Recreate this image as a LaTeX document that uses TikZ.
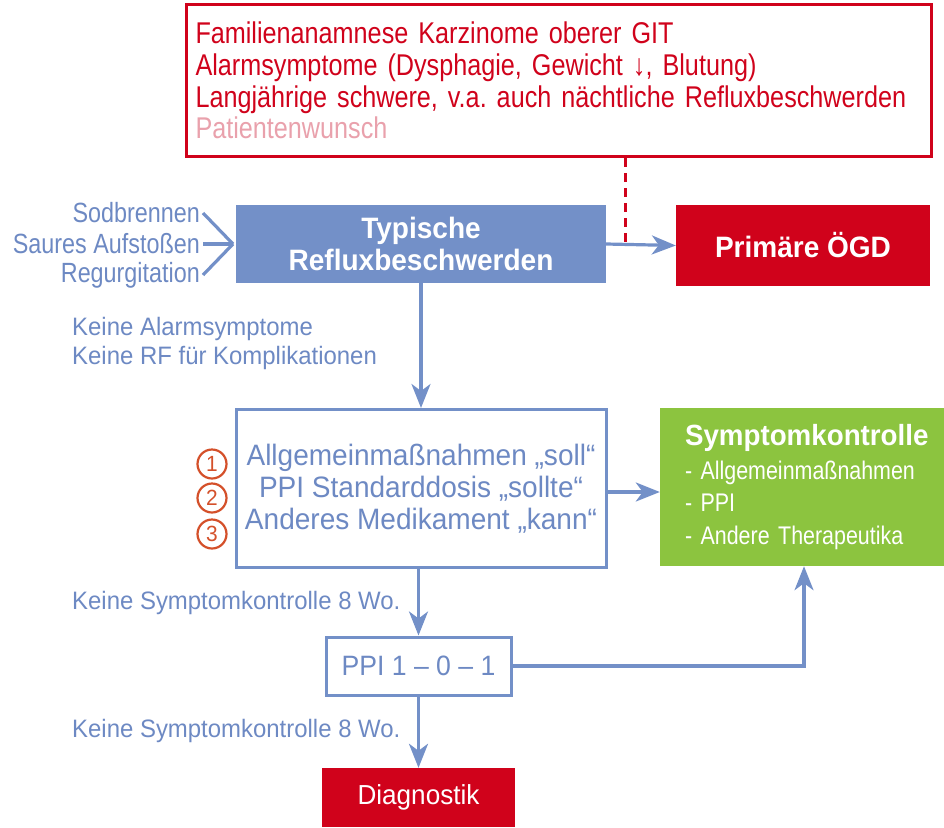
\documentclass[tikz,border=0pt]{standalone}
\usepackage{fontspec}
\setmainfont{Liberation Sans}[FakeStretch=0.95]
\newfontfamily\narrowfont{Liberation Sans}[FakeStretch=0.84]
\usetikzlibrary{arrows.meta}
\frenchspacing
\definecolor{gerdblue}{HTML}{7390C8}
\definecolor{gerdtext}{HTML}{6D89C3}
\definecolor{gerdred}{HTML}{D0021B}
\definecolor{gerdpink}{HTML}{E9A1AC}
\definecolor{gerdgreen}{HTML}{8CC43F}
\definecolor{gerdorange}{HTML}{D4502A}
\tikzset{
  flow/.style={draw=gerdblue, line width=3.2pt},
  arr/.style={flow, -{Stealth[length=24pt,width=19pt,inset=7pt]}},
  bluebox/.style={fill=gerdblue, text=white, font=\fontsize{29.5}{32}\selectfont\bfseries, align=center},
  redbox/.style={fill=gerdred, text=white, font=\fontsize{27.5}{32}\selectfont},
  framebox/.style={draw=gerdblue, line width=3pt, fill=white, text=gerdtext, align=center, font=\fontsize{29.5}{32}\selectfont},
  sidelabel/.style={text=gerdtext, font=\narrowfont\fontsize{27.8}{31}\selectfont, inner sep=0pt},
  edgelabel/.style={text=gerdtext, font=\fontsize{25.2}{29}\selectfont, inner sep=0pt, anchor=west, align=left},
  numcirc/.style={circle, draw=gerdorange, line width=2.2pt, text=gerdorange, inner sep=0pt, minimum size=29pt, font=\fontsize{22}{22}\selectfont}
}
\begin{document}
\begin{tikzpicture}[x=1pt,y=-1pt]
\useasboundingbox (0,0) rectangle (944,827);

% indications for primary endoscopy
\node[draw=gerdred, line width=3pt, anchor=north west, minimum width=745pt, minimum height=152pt,
      text width=727pt, align=left, inner sep=0pt, text=gerdred,
      font=\narrowfont\fontsize{30}{31.8}\selectfont] (risk) at (185,3)
  {Familienanamnese Karzinome oberer GIT\\
   Alarmsymptome (Dysphagie, Gewicht \textdownarrow, Blutung)\\
   Langjährige schwere, v.a. auch nächtliche Refluxbeschwerden\\
   \textcolor{gerdpink}{Patientenwunsch}};

% main boxes
\node[bluebox, minimum width=370pt, minimum height=78pt] (typ) at (421,244) {Typische\\Refluxbeschwerden};
\node[redbox, font=\fontsize{29.5}{32}\selectfont\bfseries, minimum width=254pt, minimum height=81pt] (ogd) at (803,245.5) {Primäre ÖGD};
\node[framebox, minimum width=370pt, minimum height=158pt] (mid) at (421,488.5)
  {Allgemeinmaßnahmen „soll“\\PPI Standarddosis „sollte“\\Anderes Medikament „kann“};
\node[fill=gerdgreen, text=white, minimum width=284pt, minimum height=158pt, text width=234pt, align=left,
      font=\narrowfont\fontsize{25.5}{32.5}\selectfont] (ctrl) at (802,487)
  {{\rmfamily\fontsize{29.2}{33}\selectfont\bfseries Symptomkontrolle}\\[1pt]
   - Allgemeinmaßnahmen\\
   - PPI\\
   - Andere Therapeutika};
\node[framebox, minimum width=185pt, minimum height=58pt, font=\fontsize{28}{32}\selectfont] (ppi) at (418.5,666) {PPI 1 – 0 – 1};
\node[redbox, minimum width=193pt, minimum height=59pt] (diag) at (418.5,797.5) {Diagnostik};

% priority markers
\node[numcirc] (n1) at (212,464) {1};
\node[numcirc] (n2) at (212,498) {2};
\node[numcirc] (n3) at (212,534) {3};

% typical symptoms
\node[sidelabel, anchor=east] (sod) at (200,213) {Sodbrennen};
\node[sidelabel, anchor=east] (sau) at (200,244) {Saures Aufstoßen};
\node[sidelabel, anchor=east] (reg) at (200,275) {Regurgitation};
\coordinate (conv) at (233,244);
\draw[flow] (sod.east) ++(3,0) -- (conv);
\draw[flow] (sau.east) ++(3,0) -- (conv);
\draw[flow] (reg.east) ++(3,0) -- (conv);

% edge labels
\node[edgelabel] (lab1) at (72,343) {Keine Alarmsymptome\\Keine RF für Komplikationen};
\node[edgelabel] (lab2) at (72,603) {Keine Symptomkontrolle 8 Wo.};
\node[edgelabel] (lab3) at (72,731) {Keine Symptomkontrolle 8 Wo.};

% connectors
\coordinate (dashend) at (625,242);
\draw[draw=gerdred, line width=3pt, dash pattern=on 9pt off 6pt] (risk.south -| dashend) -- (dashend);
\draw[arr] (typ.east) -- (ogd.west);
\draw[arr] (typ.south) -- (mid.north);
\coordinate (ctrlrow) at (0,492);
\draw[arr] (mid.east |- ctrlrow) -- (ctrl.west |- ctrlrow);
\draw[arr] (mid.south -| ppi.north) -- (ppi.north);
\draw[arr] (ppi.south) -- (diag.north);
\coordinate (backup) at (804,0);
\draw[arr] (ppi.east) -| (ctrl.south -| backup);
\end{tikzpicture}
\end{document}
